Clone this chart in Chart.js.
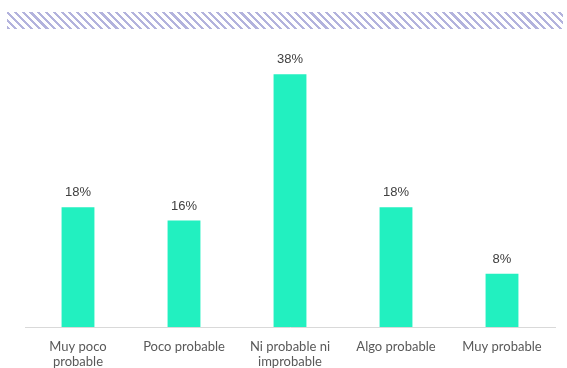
<!DOCTYPE html>
<html>
<head>
<meta charset="utf-8">
<script src="https://cdn.jsdelivr.net/npm/chart.js@4"></script>
<style>
  html, body { margin: 0; padding: 0; background: #fff; }
  #wrap { position: relative; width: 567px; height: 368px; }
  #hatch {
    position: absolute; left: 7px; top: 12px; width: 556px; height: 17px;
    background: repeating-linear-gradient(45deg, #b3b3dd 0px, #b3b3dd 2.2px, transparent 2.2px, transparent 5.5px);
  }
  canvas { position: absolute; left: 0; top: 0; }
</style>
</head>
<body>
<div id="wrap">
  <div id="hatch"></div>
  <canvas id="chart" width="567" height="368"></canvas>
</div>
<script>
const categories = [['Muy poco', 'probable'], 'Poco probable', ['Ni probable ni', 'improbable'], 'Algo probable', 'Muy probable'];
const values = [18, 16, 38, 18, 8];

// draws the "18%" labels above each bar
const valueLabels = {
    id: 'valueLabels',
    afterDatasetsDraw(chart) {
        const ctx = chart.ctx;
        const meta = chart.getDatasetMeta(0);
        ctx.save();
        ctx.font = '13px "Liberation Sans", Arial, sans-serif';
        ctx.fillStyle = '#404040';
        ctx.textAlign = 'center';
        ctx.textBaseline = 'bottom';
        meta.data.forEach(function (bar, i) {
            ctx.fillText(values[i] + '%', bar.x, bar.y - 8);
        });
        ctx.restore();
    }
};

new Chart(document.getElementById('chart').getContext('2d'), {
    type: 'bar',
    data: {
        labels: categories,
        datasets: [{
            data: values,
            backgroundColor: '#22f0c0',
            categoryPercentage: 1,
            barPercentage: 0.31
        }]
    },
    options: {
        responsive: false,
        animation: false,
        layout: { padding: { left: 25, right: 12, top: 61, bottom: 0 } },
        plugins: { legend: { display: false }, tooltip: { enabled: false } },
        scales: {
            x: {
                grid: { display: false, drawTicks: false },
                border: { color: '#d9d9d9', width: 1 },
                ticks: {
                    color: '#595959',
                    font: { family: 'Lato, sans-serif', size: 13, lineHeight: 1.1 },
                    padding: 13,
                    maxRotation: 0,
                    autoSkip: false
                },
                afterFit: function (scale) { scale.height = 41; }
            },
            y: {
                display: false,
                min: 0,
                max: 40
            }
        }
    },
    plugins: [valueLabels]
});
</script>
</body>
</html>
